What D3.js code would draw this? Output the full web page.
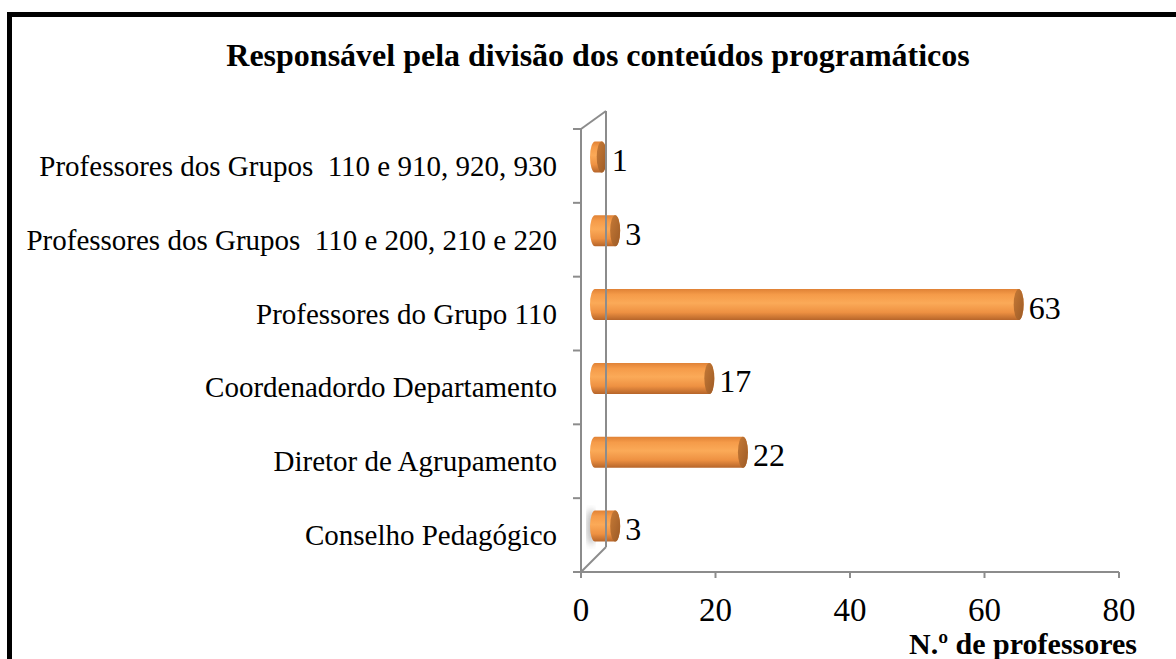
<!DOCTYPE html>
<html><head><meta charset="utf-8">
<script src="https://cdn.jsdelivr.net/npm/d3@7"></script>
<style>html,body{margin:0;padding:0;background:#fff;overflow:hidden}</style>
</head><body>
<svg id="c" width="1176" height="659"></svg>
<script>
const categories = ["Professores dos Grupos  110 e 910, 920, 930","Professores dos Grupos  110 e 200, 210 e 220","Professores do Grupo 110","Coordenadordo Departamento","Diretor de Agrupamento","Conselho Pedagógico"];
const values = [1,3,63,17,22,3];
const xTicks = [0,20,40,60,80];
const title = "Responsável pela divisão dos conteúdos programáticos";
const xTitle = "N.º de professores";

const svg = d3.select("#c");
const font = "'Liberation Serif','Times New Roman',serif";
svg.append("rect").attr("x",9.5).attr("y",14.5).attr("width",1300).attr("height",800)
  .attr("fill","#fff").attr("stroke","#000").attr("stroke-width",5);

const x = d3.scaleLinear().domain([0,80]).range([581,1119]);
const y = d3.scaleBand().domain(categories).range([129,572]);
const dx = 25, dy = 18; // 3D depth offset
const gray = "#8c8c8c";

const defs = svg.append("defs");
const g1 = defs.append("linearGradient").attr("id","body").attr("x1",0).attr("y1",0).attr("x2",0).attr("y2",1);
[[0,"#E08236"],[0.18,"#F59B49"],[0.45,"#FBAA58"],[0.75,"#EE9142"],[1,"#B6652A"]].forEach(s=>g1.append("stop").attr("offset",s[0]).attr("stop-color",s[1]));
const g2 = defs.append("linearGradient").attr("id","cap").attr("x1",0).attr("y1",0).attr("x2",1).attr("y2",1);
[[0,"#C67a36"],[1,"#9C5A26"]].forEach(s=>g2.append("stop").attr("offset",s[0]).attr("stop-color",s[1]));
defs.append("filter").attr("id","blur").append("feGaussianBlur").attr("stdDeviation",3);

const wall = svg.append("g").attr("stroke",gray).attr("stroke-width",2).attr("fill","none");
wall.append("path").attr("d",`M${x(0)},${y.range()[0]}L${x(0)},${y.range()[1]}`);
wall.append("path").attr("d",`M${x(0)},${y.range()[0]}L${x(0)+dx},${y.range()[0]-dy}`);
wall.append("path").attr("d",`M${x(0)},${y.range()[1]}L${x(0)+dx},${y.range()[1]-dy-7}`);
categories.concat([null]).forEach((c,i)=>{
  const yy = 129 + i*y.step();
  wall.append("line").attr("x1",x(0)-8).attr("x2",x(0)).attr("y1",yy).attr("y2",yy);
});
wall.append("line").attr("x1",x(0)-8).attr("x2",x(80)).attr("y1",572).attr("y2",572);
xTicks.forEach(t=>wall.append("line").attr("x1",x(t)).attr("x2",x(t)).attr("y1",572).attr("y2",578));

const bx0 = 595, k = (x(1)-x(0));
const xb = v => bx0 + v*k;
const rx = 5, bh = 31;
svg.append("ellipse").attr("cx",591).attr("cy",y(categories[5])+y.bandwidth()/2-8).attr("rx",4).attr("ry",18)
  .attr("fill","#999").attr("filter","url(#blur)").attr("opacity",0.7);

const bars = svg.append("g");
categories.forEach((c,i)=>{
  const v = values[i];
  const cy = y(c)+y.bandwidth()/2-9;
  const x0 = xb(0), x1 = xb(v);
  const g = bars.append("g");
  g.append("path").attr("d",`M${x0},${cy-bh/2}L${x1},${cy-bh/2}A${rx},${bh/2} 0 0 1 ${x1},${cy+bh/2}L${x0},${cy+bh/2}A${rx},${bh/2} 0 0 1 ${x0},${cy-bh/2}Z`)
    .attr("fill","url(#body)");
  g.append("ellipse").attr("cx",x1).attr("cy",cy).attr("rx",rx).attr("ry",bh/2).attr("fill","url(#cap)");
  svg.append("text").attr("x",x1+rx+5).attr("y",cy+14).attr("font-family",font).attr("font-size",32).attr("fill","#000").text(v);
});
svg.append("line").attr("x1",x(0)+dx).attr("x2",x(0)+dx).attr("y1",y.range()[0]-dy).attr("y2",y.range()[1]-dy-7)
  .attr("stroke",gray).attr("stroke-width",2);

categories.forEach(c=>{
  svg.append("text").attr("x",557).attr("y",y(c)+y.bandwidth()/2+10).attr("text-anchor","end")
    .attr("font-family",font).attr("font-size",29).attr("fill","#000").style("white-space","pre").text(c);
});
xTicks.forEach(t=>svg.append("text").attr("x",x(t)).attr("y",621).attr("text-anchor","middle")
  .attr("font-family",font).attr("font-size",33).attr("fill","#000").text(t));
svg.append("text").attr("x",1137).attr("y",654).attr("text-anchor","end").attr("font-family",font)
  .attr("font-weight","bold").attr("font-size",30).attr("fill","#000").text(xTitle);
svg.append("text").attr("x",598).attr("y",66).attr("text-anchor","middle").attr("font-family",font)
  .attr("font-weight","bold").attr("font-size",32).attr("fill","#000").text(title);
</script>
</body></html>
